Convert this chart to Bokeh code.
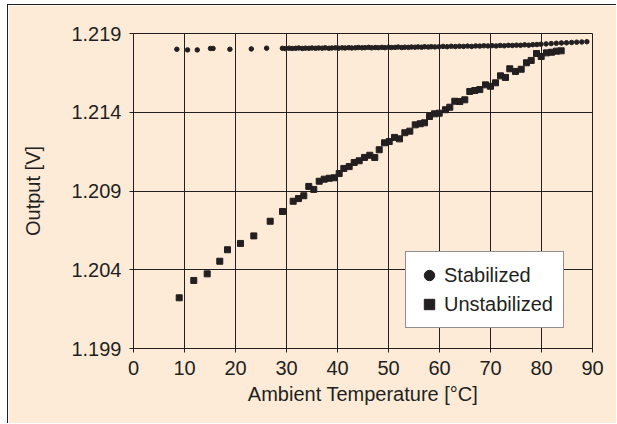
from bokeh.plotting import figure
from bokeh.models import Range1d, FixedTicker, NumeralTickFormatter, Legend, LegendItem
from bokeh.embed import file_html
from bokeh.resources import INLINE

# ---- data ----
stab_x = [8.5, 10.6, 12.5, 15.1, 15.6, 18.9, 23.1, 26.1,
          29.2, 29.8, 30.5, 31.1, 31.8, 32.4, 33.1, 33.7, 34.4, 35.0,
          35.7, 36.3, 37.0, 37.6, 38.3, 38.9, 39.6, 40.2, 40.9, 41.5,
          42.2, 42.8, 43.5, 44.1, 44.8, 45.4, 46.1, 46.7, 47.4, 48.0,
          48.7, 49.3, 50.0, 50.6, 51.3, 51.9, 52.6, 53.2, 53.9, 54.5,
          55.2, 55.8, 56.5, 57.1, 57.8, 58.4, 59.1,
          59.9, 60.7, 61.5, 62.3, 63.1, 63.9, 64.7, 65.5, 66.3, 67.1,
          67.9, 68.7, 69.5, 70.3, 71.1, 71.9, 72.7, 73.5, 74.3, 75.1,
          75.9, 76.7, 77.5, 78.3, 79.1, 79.9,
          80.9, 81.9, 82.9, 83.9, 84.9, 85.9, 86.9, 87.9, 88.9]
stab_y = [1.21800, 1.21796, 1.21796, 1.21805, 1.21805, 1.21800, 1.21802, 1.21807,
          1.21806, 1.21804, 1.21807, 1.21805, 1.21806, 1.21808, 1.21805, 1.21807, 1.21806, 1.21808,
          1.21806, 1.21808, 1.21807, 1.21809, 1.21806, 1.21808, 1.21809, 1.21807, 1.21809, 1.21808,
          1.21810, 1.21808, 1.21809, 1.21811, 1.21809, 1.21810, 1.21812, 1.21809, 1.21811, 1.21810,
          1.21812, 1.21810, 1.21813, 1.21811, 1.21812, 1.21814, 1.21811, 1.21813, 1.21812, 1.21814,
          1.21813, 1.21815, 1.21813, 1.21816, 1.21814, 1.21816, 1.21815,
          1.21816, 1.21818, 1.21816, 1.21819, 1.21817, 1.21819, 1.21818, 1.21820, 1.21818, 1.21821,
          1.21820, 1.21822, 1.21821, 1.21823, 1.21821, 1.21824, 1.21822, 1.21825, 1.21824, 1.21826,
          1.21825, 1.21828, 1.21826, 1.21829, 1.21830, 1.21832,
          1.21834, 1.21836, 1.21838, 1.21840, 1.21841, 1.21843, 1.21845, 1.21846, 1.21848]

unstab_x = [8.96, 11.82, 14.45, 16.92, 18.43, 20.98, 23.59, 26.80, 29.22, 31.31,
            32.35, 33.39, 34.37, 35.35, 36.41, 37.39, 38.37, 39.35, 40.33, 41.24,
            42.29, 43.27, 44.25, 45.29, 46.33, 47.31, 48.18, 49.22, 50.14, 51.18,
            52.16, 53.20, 54.18, 55.24, 56.22, 57.06, 58.04, 59.02, 59.94, 61.18,
            62.02, 63.00, 63.98, 64.96, 65.94, 66.92, 67.90, 69.02, 70.00, 70.98,
            71.96, 72.94, 73.78, 74.90, 76.02, 77.06, 77.98, 79.02, 79.94, 80.98,
            81.96, 82.94, 83.86]
unstab_y = [1.20222, 1.20332, 1.20374, 1.20454, 1.20527, 1.20567, 1.20615, 1.20708, 1.20770, 1.20835,
            1.20852, 1.20870, 1.20929, 1.20910, 1.20962, 1.20975, 1.20981, 1.20984, 1.21011, 1.21043,
            1.21055, 1.21081, 1.21092, 1.21113, 1.21127, 1.21113, 1.21162, 1.21206, 1.21214, 1.21240,
            1.21231, 1.21270, 1.21280, 1.21320, 1.21327, 1.21333, 1.21373, 1.21390, 1.21394, 1.21416,
            1.21432, 1.21470, 1.21468, 1.21479, 1.21532, 1.21538, 1.21544, 1.21574, 1.21565, 1.21587,
            1.21631, 1.21621, 1.21676, 1.21659, 1.21673, 1.21714, 1.21729, 1.21773, 1.21754, 1.21777,
            1.21781, 1.21788, 1.21790]

x_ticks = [0, 10, 20, 30, 40, 50, 60, 70, 80, 90]
y_ticks = [1.199, 1.204, 1.209, 1.214, 1.219]

INK = "#231f20"
BG = "#fdebd7"
FONT = "Liberation Sans"
FS = "20px"

p = figure(width=609, height=419, output_backend="svg", toolbar_location=None,
           x_range=Range1d(0, 90), y_range=Range1d(1.199, 1.219),
           min_border_left=125, min_border_right=25, min_border_top=28, min_border_bottom=76,
           background_fill_color=BG, border_fill_color=BG,
           outline_line_color=INK, outline_line_width=1)
p.styles = {"border-left": "1px solid #231f20", "border-top": "1px solid #231f20",
            "margin-left": "7px", "margin-top": "4px"}

r_stab = p.scatter(stab_x, stab_y, marker="circle", size=4.5, color=INK)
r_unstab = p.scatter(unstab_x, unstab_y, marker="square", size=6, color=INK)

for ax in (p.xaxis, p.yaxis):
    ax.axis_line_color = INK
    ax.major_tick_line_color = INK
    ax.major_tick_in = 0
    ax.major_tick_out = 4
    ax.minor_tick_line_color = None
    ax.major_label_text_font = FONT
    ax.major_label_text_font_size = FS
    ax.major_label_text_color = INK
    ax.axis_label_text_font = FONT
    ax.axis_label_text_font_size = FS
    ax.axis_label_text_font_style = "normal"
    ax.axis_label_text_color = INK

p.xaxis.ticker = FixedTicker(ticks=x_ticks)
p.yaxis.ticker = FixedTicker(ticks=y_ticks)
p.yaxis.formatter = NumeralTickFormatter(format="0.000")
p.xaxis.axis_label = "Ambient Temperature [°C]"
p.yaxis.axis_label = "Output [V]"
p.xaxis.major_label_standoff = 8
p.yaxis.major_label_standoff = 8
p.xaxis.axis_label_standoff = 5
p.yaxis.axis_label_standoff = 24

p.xgrid.ticker = FixedTicker(ticks=x_ticks)
p.ygrid.ticker = FixedTicker(ticks=y_ticks)
for g in (p.xgrid, p.ygrid):
    g.grid_line_color = INK
    g.grid_line_width = 1

legend = Legend(items=[LegendItem(label="Stabilized", renderers=[r_stab]),
                       LegendItem(label="Unstabilized", renderers=[r_unstab])],
                location=(272, 20), glyph_width=26, glyph_height=26,
                padding=10, spacing=3, label_standoff=2,
                label_text_font=FONT, label_text_font_size=FS, label_text_color=INK,
                border_line_color=INK, border_line_width=1,
                background_fill_color="white", background_fill_alpha=1.0)
p.add_layout(legend, "center")

open("out.html", "w").write(file_html(p, INLINE))
